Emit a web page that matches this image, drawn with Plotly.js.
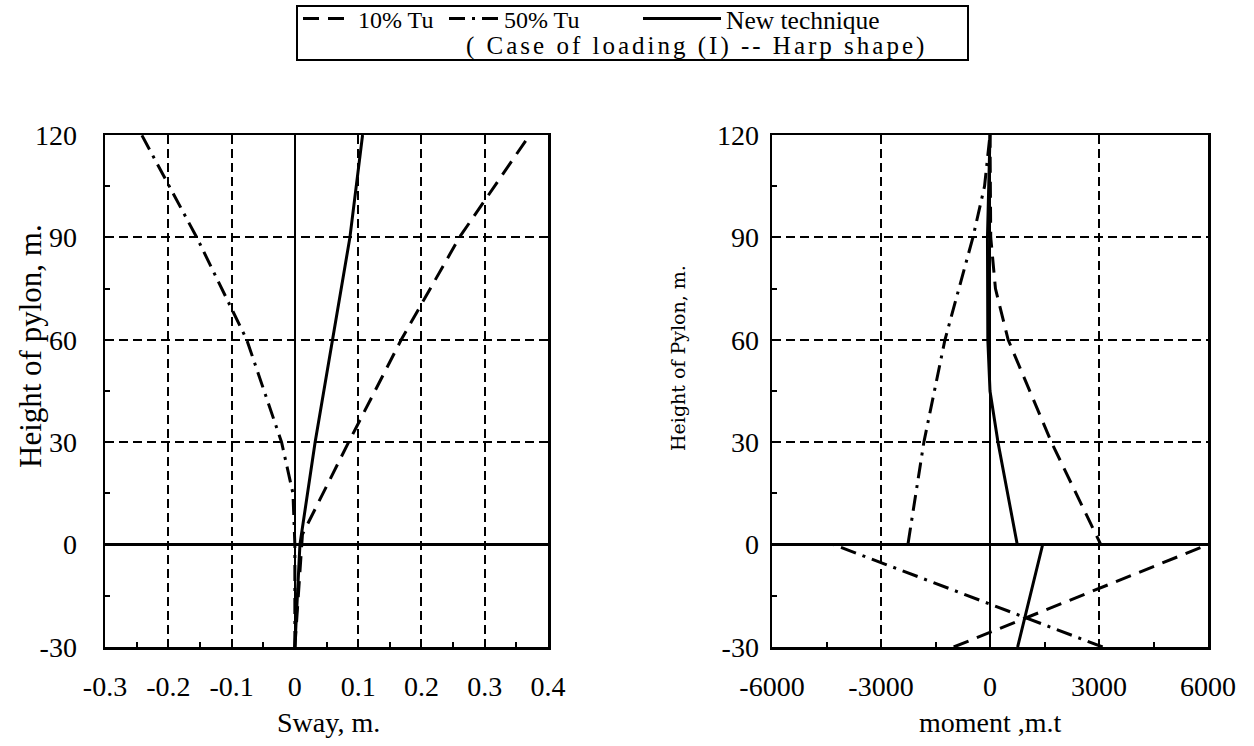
<!DOCTYPE html>
<html>
<head>
<meta charset="utf-8">
<script src="https://cdn.plot.ly/plotly-3.0.1.min.js"></script>
<style>
html,body{margin:0;padding:0;background:#fff;}
#chart{width:1254px;height:746px;}
text.annotation-text[data-unformatted^="( Case"]{letter-spacing:3px;}
</style>
</head>
<body>
<div id="chart"></div>
<script>
// ---- Sway (left panel) ----
const swayH10 = [-30, 3, 30, 60, 90, 120];
const sway10  = [0, 0.012, 0.085, 0.168, 0.260, 0.371];
const swayH50 = [-30, 0, 15, 30, 60, 90, 120];
const sway50  = [0, 0, -0.003, -0.021, -0.076, -0.155, -0.242];
const swayHNew = [-30, 0, 30, 60, 90, 120];
const swayNew  = [0, 0.008, 0.032, 0.060, 0.087, 0.107];

// ---- Moment (right panel) ----
const momH10 = [-30, 0, 0, 30, 60, 75, 90, 120];
const mom10  = [-1000, 6000, 3050, 1690, 500, 150, 20, 0];
const momH50 = [-30, 0, 0, 30, 60, 90, 105, 120];
const mom50  = [3100, -4300, -2260, -1820, -1240, -470, -150, 0];
const momHNew = [-30, 0, 0, 30, 45, 60, 90, 120];
const momNew  = [760, 1450, 750, 220, 0, -60, -70, 0];

// ---- tick labels ----
const swayTickVals = [-0.3, -0.2, -0.1, 0, 0.1, 0.2, 0.3, 0.4];
const swayTickText = ['-0.3', '-0.2', '-0.1', '0', '0.1', '0.2', '0.3', '0.4'];
const momTickVals = [-6000, -3000, 0, 3000, 6000];
const momTickText = ['-6000', '-3000', '0', '3000', '6000'];
const hTickVals = [-30, 0, 30, 60, 90, 120];
const hTickText = ['-30', '0', '30', '60', '90', '120'];

const names = ['10% Tu', '50% Tu', 'New technique'];
const dashes = ['16px,9px', '16px,7px,3px,7px', 'solid'];
const legendIds = ['legend', 'legend2', 'legend3'];

const SERIF = 'Liberation Serif, Times New Roman, serif';
const LW = 3;

function tr(x, y, i, xa, ya, show) {
  return {
    type: 'scatter', mode: 'lines', x: x, y: y, name: names[i],
    legend: legendIds[i], legendgroup: 'g' + i, showlegend: show, xaxis: xa, yaxis: ya,
    line: {color: '#000', width: LW, dash: dashes[i]}, hoverinfo: 'skip'
  };
}

const data = [
  tr(sway10, swayH10, 0, 'x', 'y', true),
  tr(sway50, swayH50, 1, 'x', 'y', true),
  tr(swayNew, swayHNew, 2, 'x', 'y', true),
  tr(mom10, momH10, 0, 'x2', 'y2', false),
  tr(mom50, momH50, 1, 'x2', 'y2', false),
  tr(momNew, momHNew, 2, 'x2', 'y2', false)
];

function axis(extra) {
  return Object.assign({
    showline: true, mirror: true, linecolor: '#000', linewidth: 2.5,
    ticks: 'inside', ticklen: 8, tickwidth: 2, tickcolor: '#000',
    showgrid: true, gridcolor: '#000', gridwidth: 2, griddash: '9px,5px',
    zeroline: true, zerolinecolor: '#000', zerolinewidth: 2.5,
    tickfont: {family: SERIF, size: 28, color: '#000'},
    fixedrange: true, automargin: false, tickmode: 'array'
  }, extra);
}

const L = 105, R = 46, T = 135, B = 99, W = 1254, H = 746;
const PW = W - L - R, PH = H - T - B;
const px = v => (v - L) / PW;
const py = v => (H - B - v) / PH;

function leg(xPix, size, itemw, ew) {
  const o = {
    orientation: 'h', x: px(xPix), xanchor: 'left', y: py(19), yanchor: 'middle',
    bgcolor: 'rgba(0,0,0,0)', borderwidth: 0,
    font: {family: SERIF, size: size, color: '#000'},
    itemwidth: itemw, itemclick: false, itemdoubleclick: false
  };
  if (ew) { o.entrywidth = ew; o.entrywidthmode = 'pixels'; }
  return o;
}

const layout = {
  width: W, height: H,
  margin: {l: L, r: R, t: T, b: B, pad: 0, autoexpand: false},
  paper_bgcolor: '#fff', plot_bgcolor: '#fff',
  font: {family: SERIF, color: '#000'},
  xaxis: axis({domain: [0, px(548)], range: [-0.3, 0.4], tickvals: swayTickVals, ticktext: swayTickText,
    ticklabelstandoff: 13, minor: {ticks: 'inside', ticklen: 5, tickwidth: 2, tickcolor: '#000', dtick: 0.05, tick0: 0, showgrid: false}}),
  yaxis: axis({domain: [0, 1], range: [-30, 120], tickvals: hTickVals, ticktext: hTickText, anchor: 'x',
    ticklabelstandoff: 20, minor: {ticks: 'inside', ticklen: 5, tickwidth: 2, tickcolor: '#000', dtick: 15, tick0: 0, showgrid: false}}),
  xaxis2: axis({domain: [px(772), 1], range: [-6000, 6000], tickvals: momTickVals, ticktext: momTickText, anchor: 'y2',
    ticklabelstandoff: 13, minor: {ticks: 'inside', ticklen: 5, tickwidth: 2, tickcolor: '#000', dtick: 1500, tick0: 0, showgrid: false}}),
  yaxis2: axis({domain: [0, 1], range: [-30, 120], tickvals: hTickVals, ticktext: hTickText, anchor: 'x2',
    ticklabelstandoff: 5, minor: {ticks: 'inside', ticklen: 5, tickwidth: 2, tickcolor: '#000', dtick: 15, tick0: 0, showgrid: false}}),
  showlegend: true,
  legend: leg(298, 24, 50),
  legend2: leg(444, 24, 50),
  legend3: leg(638, 25.5, 78, 250),
  shapes: [
    {type: 'rect', xref: 'paper', yref: 'paper', x0: px(297), x1: px(968), y0: py(60), y1: py(6),
     line: {color: '#000', width: 2}, fillcolor: 'rgba(0,0,0,0)'}
  ],
  annotations: [
    {xref: 'paper', yref: 'paper', x: px(696), y: py(46), xanchor: 'center', yanchor: 'middle', showarrow: false,
     text: '( Case of loading (I) -- Harp shape)', font: {family: SERIF, size: 25, color: '#000'}},
    {xref: 'paper', yref: 'paper', x: px(328), y: py(722), xanchor: 'center', yanchor: 'middle', showarrow: false,
     text: 'Sway, m.', font: {family: SERIF, size: 28, color: '#000'}},
    {xref: 'paper', yref: 'paper', x: px(990), y: py(722), xanchor: 'center', yanchor: 'middle', showarrow: false,
     text: 'moment ,m.t', font: {family: SERIF, size: 28, color: '#000'}},
    {xref: 'paper', yref: 'paper', x: px(30), y: py(346), xanchor: 'center', yanchor: 'middle', showarrow: false, textangle: -90,
     text: 'Height of pylon, m.', font: {family: SERIF, size: 31, color: '#000'}},
    {xref: 'paper', yref: 'paper', x: px(678), y: py(358), xanchor: 'center', yanchor: 'middle', showarrow: false, textangle: -90,
     text: 'Height of Pylon, m.', font: {family: 'DejaVu Serif, serif', size: 19, color: '#000'}}
  ]
};

function spaceNewTechnique() {
  document.querySelectorAll('#chart text.legendtext').forEach(function (t) {
    if (t.textContent.replace(/\s+/g, ' ').trim() === names[2]) {
      t.setAttribute('letter-spacing', '5');
      t.style.letterSpacing = '5px';
    }
  });
}

const p = Plotly.newPlot('chart', data, layout, {staticPlot: true, displayModeBar: false});
spaceNewTechnique();
p.then(spaceNewTechnique);
</script>
</body>
</html>
